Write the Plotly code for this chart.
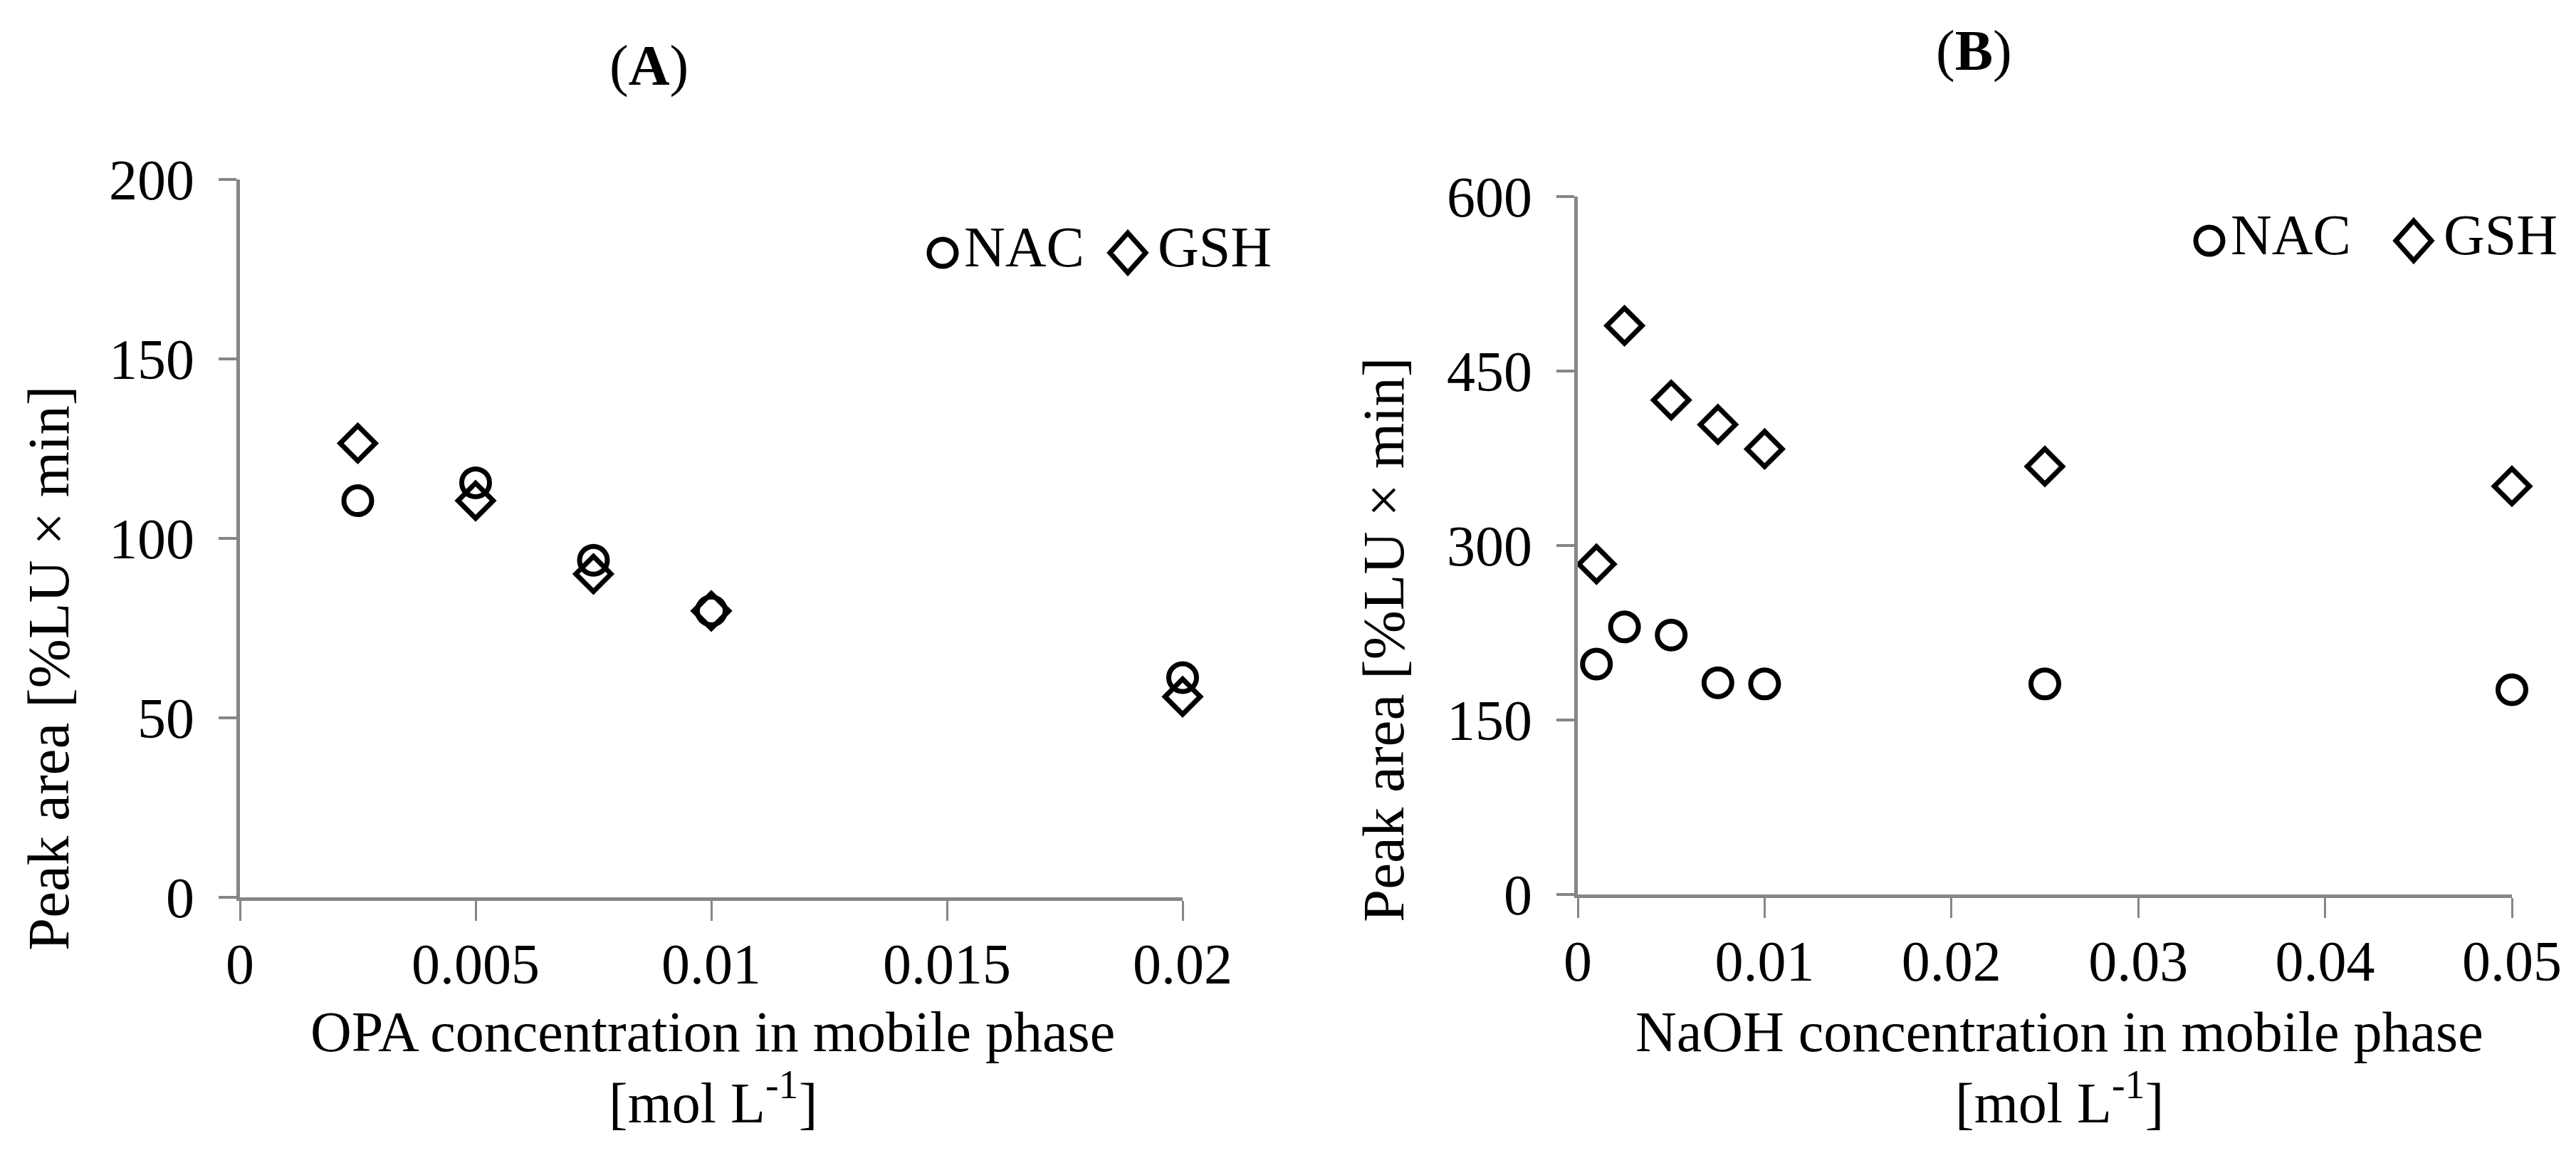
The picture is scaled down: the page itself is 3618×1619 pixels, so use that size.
import plotly.graph_objects as go

W, H = 3618, 1619

# panel A: OPA concentration
opa_conc = [0.0025, 0.005, 0.0075, 0.01, 0.02]
opa_nac = [110.5, 115.5, 93.9, 79.8, 61.2]
opa_gsh = [126.5, 110.5, 90.1, 79.8, 55.9]

# panel B: NaOH concentration
naoh_conc = [0.001, 0.0025, 0.005, 0.0075, 0.01, 0.025, 0.05]
naoh_nac = [198, 230, 223, 182, 181, 181, 176]
naoh_gsh = [284, 489, 425, 404, 383, 368, 351]

series_names = ["NAC", "GSH"]
panel_titles = ["(<b>A</b>)", "(<b>B</b>)"]
x_titles = ["OPA concentration in mobile phase", "NaOH concentration in mobile phase"]
x_unit = "[mol L<sup>-1</sup>]"
y_title = "Peak area [%LU × min]"

FONT = "Liberation Serif, Times New Roman, serif"
AXIS_GREY = "#868686"


def px(x):
    return x / W


def py(y):
    return 1 - y / H


fig = go.Figure()

marker_nac = dict(symbol="circle-open", size=39, color="black", line=dict(width=7, color="black"))
marker_gsh = dict(symbol="diamond-open", size=38, color="black", line=dict(width=7, color="black"))

fig.add_trace(go.Scatter(x=opa_conc, y=opa_gsh, mode="markers", marker=marker_gsh,
                         name=series_names[1], xaxis="x", yaxis="y", cliponaxis=False))
fig.add_trace(go.Scatter(x=opa_conc, y=opa_nac, mode="markers", marker=marker_nac,
                         name=series_names[0], xaxis="x", yaxis="y", cliponaxis=False))
fig.add_trace(go.Scatter(x=naoh_conc, y=naoh_gsh, mode="markers", marker=marker_gsh,
                         name=series_names[1], xaxis="x2", yaxis="y2", cliponaxis=False))
fig.add_trace(go.Scatter(x=naoh_conc, y=naoh_nac, mode="markers", marker=marker_nac,
                         name=series_names[0], xaxis="x2", yaxis="y2", cliponaxis=False))

common_x = dict(showline=True, linecolor=AXIS_GREY, linewidth=5, ticks="outside",
                ticklen=28, tickwidth=3, tickcolor=AXIS_GREY, showgrid=False, zeroline=False,
                tickfont=dict(family=FONT, size=80, color="black"), ticklabelstandoff=-8,
                automargin=False)
common_y = dict(showline=True, linecolor=AXIS_GREY, linewidth=5, ticks="outside",
                ticklen=25, tickwidth=4, tickcolor=AXIS_GREY, showgrid=False, zeroline=False,
                tickfont=dict(family=FONT, size=80, color="black"), ticklabelstandoff=18,
                automargin=False)

fig.update_layout(
    width=W, height=H,
    margin=dict(l=0, r=0, t=0, b=0, autoexpand=False),
    paper_bgcolor="white", plot_bgcolor="white",
    showlegend=False,
    xaxis=dict(common_x, domain=[px(329), px(1653)], range=[0, 0.02], dtick=0.005,
               anchor="y"),
    yaxis=dict(common_y, domain=[py(1252), py(244)], range=[0, 200], dtick=50,
               anchor="x"),
    xaxis2=dict(common_x, domain=[px(2208), px(3520)], range=[0, 0.05], dtick=0.01,
                anchor="y2"),
    yaxis2=dict(common_y, domain=[py(1248), py(268)], range=[0, 600], dtick=150,
                anchor="x2"),
)

annotations = []
text_font = dict(family=FONT, size=80, color="black")


def note(text, x, y, xanchor="center", **kw):
    annotations.append(dict(text=text, x=px(x), y=py(y), xref="paper", yref="paper",
                            showarrow=False, font=kw.pop("font", text_font),
                            xanchor=xanchor, yanchor="middle", **kw))


# panel titles
note(panel_titles[0], 903, 84)
note(panel_titles[1], 2764, 63)

# x axis titles (two lines each)
note(x_titles[0], 993, 1441)
note(x_unit, 993, 1534)
note(x_titles[1], 2884, 1441)
note(x_unit, 2884, 1534)

# y axis titles
y_font = dict(family=FONT, size=83, color="black")
note(y_title, 60, 930, font=y_font, textangle=-90)
note(y_title, 1935, 890, font=y_font, textangle=-90)

# legends drawn as shapes + text
shapes = []


def legend(cx_circle, cx_diamond, cy, nac_left, gsh_left):
    r = 19
    shapes.append(dict(type="circle", xref="paper", yref="paper",
                       x0=px(cx_circle - r), x1=px(cx_circle + r),
                       y0=py(cy + r), y1=py(cy - r),
                       line=dict(color="black", width=7)))
    hw, hh = 25, 28
    path = "M {} {} L {} {} L {} {} L {} {} Z".format(
        px(cx_diamond), py(cy - hh), px(cx_diamond + hw), py(cy),
        px(cx_diamond), py(cy + hh), px(cx_diamond - hw), py(cy))
    shapes.append(dict(type="path", xref="paper", yref="paper", path=path,
                       line=dict(color="black", width=7)))
    note(series_names[0], nac_left, cy - 8, xanchor="left")
    note(series_names[1], gsh_left, cy - 8, xanchor="left")


legend(1316, 1576, 347, 1344, 1616)
legend(3095, 3382, 330, 3123, 3422)

fig.update_layout(annotations=annotations, shapes=shapes)

fig.write_html("out.html")
